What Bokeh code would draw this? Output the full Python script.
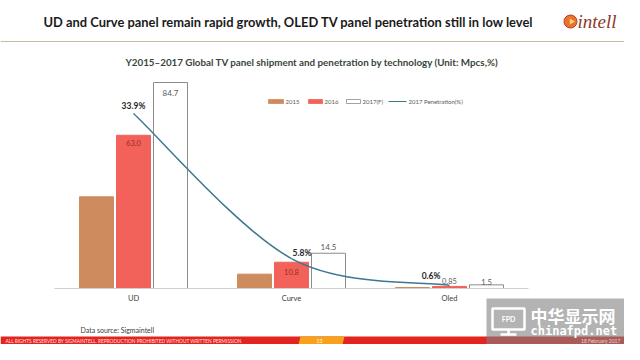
from bokeh.plotting import figure
from bokeh.models import Range1d
from bokeh.core.properties import value
from bokeh.embed import file_html
from bokeh.resources import INLINE

# ---------------- data ----------------
categories = ["UD", "Curve", "Oled"]
years = ["2015", "2016", "2017(F)"]
ship_2015 = [37.7, 5.9, 0.4]
ship_2016 = [63.0, 10.8, 0.85]
ship_2017 = [84.7, 14.5, 1.5]
pen_2017 = [33.9, 5.8, 0.6]
pen_labels = ["33.9%", "5.8%", "0.6%"]

title_text = "UD and Curve panel  remain rapid growth, OLED TV panel penetration still in low level"
subtitle_text = "Y2015\u20132017 Global  TV panel  shipment and penetration by technology (Unit: Mpcs,%)"

# ---------------- layout helpers (canvas px -> data) ----------------
W, H = 624, 344
XC, XS = 133.0, 158.0        # x of first category centre, px per category
YB, YK = 288.0, 2.432        # y of baseline, px per Mpcs
PK = 175.0 / 33.9            # px per % on penetration axis


def X(px):
    return (px - XC) / XS


def Y(py):
    return (YB - py) / YK


FONT = value("Lato")

p = figure(width=W, height=H, output_backend="svg", toolbar_location=None,
           x_range=Range1d(X(0), X(W)), y_range=Range1d(Y(H), Y(0)),
           x_axis_location=None, y_axis_location=None, min_border=0)
p.extra_y_ranges = {"pen": Range1d((YB - H) / PK, YB / PK)}
p.grid.visible = False
p.outline_line_color = None
p.background_fill_color = "white"


def txt(x, y, t, size, color="#333333", style="normal", align="left", font=FONT, base="middle", **kw):
    p.text(x=[X(x)], y=[Y(y)], text=[t], text_font=font, text_font_size=size,
           text_color=color, text_font_style=style, text_align=align, text_baseline=base, **kw)


# ---------------- header ----------------
txt(43, 21, title_text, "12.9px", "#1a1a1a", "bold")
p.segment(x0=[X(0)], y0=[Y(41)], x1=[X(W)], y1=[Y(41)], line_color="#c9b9aa", line_width=1)
# logo
p.scatter(x=[X(570)], y=[Y(21)], size=13, marker="circle", fill_color="#e8732a", line_color="#c0392b", line_width=1)
p.scatter(x=[X(571)], y=[Y(21)], size=6, marker="triangle", angle=-1.5708, fill_color="#fbd17a", line_color=None)
txt(577, 21, "intell", "19px", "#8b3a2a", "italic", font=value("Liberation Serif"))

txt(314, 61, subtitle_text, "9.8px", "#38463a", "bold", align="center")

# ---------------- bars ----------------
xi = list(range(len(categories)))
off, bw = 37.0 / XS, 34.0 / XS
colors = ["#cd8b5e", "#f2625a", "#ffffff"]
lines = ["#cd8b5e", "#f2625a", "#8c8c8c"]
for k, (vals, c, lc) in enumerate(zip([ship_2015, ship_2016, ship_2017], colors, lines)):
    p.vbar(x=[i + (k - 1) * off for i in xi], top=vals, width=bw, bottom=0,
           fill_color=c, line_color=lc, line_width=1)

# baseline and category labels
p.segment(x0=[X(54)], y0=[0], x1=[X(528)], y1=[0], line_color="#d0d0d0", line_width=1)
p.text(x=xi, y=[Y(298)] * 3, text=categories, text_font=FONT, text_font_size="7.5px",
       text_color="#404040", text_align="center", text_baseline="middle")

# value labels
p.text(x=[0 + off], y=[ship_2017[0]], text=[f"{ship_2017[0]:.1f}"], text_font=FONT, text_font_size="8px",
       text_color="#595959", text_align="center", text_baseline="middle", y_offset=10)
p.text(x=[0], y=[ship_2016[0]], text=[f"{ship_2016[0]:.1f}"], text_font=FONT, text_font_size="7.5px",
       text_color="#9a2a20", text_align="center", text_baseline="middle", y_offset=8)
p.text(x=[1 + off], y=[ship_2017[1]], text=[f"{ship_2017[1]:.1f}"], text_font=FONT, text_font_size="8px",
       text_color="#595959", text_align="center", text_baseline="middle", y_offset=-6)
p.text(x=[1], y=[ship_2016[1]], text=[f"{ship_2016[1]:.1f}"], text_font=FONT, text_font_size="7.5px",
       text_color="#9a2a20", text_align="center", text_baseline="middle", y_offset=10)
p.text(x=[2], y=[ship_2016[2]], text=[f"{ship_2016[2]:.2f}"], text_font=FONT, text_font_size="7.5px",
       text_color="#595959", text_align="center", text_baseline="middle", y_offset=-5)
p.text(x=[2 + off], y=[ship_2017[2]], text=[f"{ship_2017[2]:.1f}"], text_font=FONT, text_font_size="7.5px",
       text_color="#595959", text_align="center", text_baseline="middle", y_offset=-3)

# ---------------- penetration curve (smoothed) ----------------
pts = list(zip(xi, pen_2017))
x0s, y0s, x1s, y1s, cx0, cy0, cx1, cy1 = [], [], [], [], [], [], [], []
for i in range(len(pts) - 1):
    pm = pts[max(i - 1, 0)]
    p0 = pts[i]
    p1 = pts[i + 1]
    p2 = pts[min(i + 2, len(pts) - 1)]
    x0s.append(p0[0]); y0s.append(p0[1]); x1s.append(p1[0]); y1s.append(p1[1])
    cx0.append(p0[0] + (p1[0] - pm[0]) / 6); cy0.append(p0[1] + (p1[1] - pm[1]) / 6)
    cx1.append(p1[0] - (p2[0] - p0[0]) / 6); cy1.append(p1[1] - (p2[1] - p0[1]) / 6)
p.bezier(x0=x0s, y0=y0s, x1=x1s, y1=y1s, cx0=cx0, cy0=cy0, cx1=cx1, cy1=cy1,
         line_color="#3d7890", line_width=1.5, y_range_name="pen")

p.text(x=[xi[0]], y=[pen_2017[0]], text=[pen_labels[0]], text_font=FONT, text_font_size="8.5px",
       text_font_style="bold", text_color="#262626", text_align="center", text_baseline="middle",
       y_offset=-8, y_range_name="pen")
p.text(x=[xi[1]], y=[pen_2017[1]], text=[pen_labels[1]], text_font=FONT, text_font_size="8.5px",
       text_font_style="bold", text_color="#262626", text_align="left", text_baseline="middle",
       x_offset=1, y_offset=-6, y_range_name="pen")
p.text(x=[xi[2]], y=[pen_2017[2]], text=[pen_labels[2]], text_font=FONT, text_font_size="8.5px",
       text_font_style="bold", text_color="#262626", text_align="right", text_baseline="middle",
       x_offset=-9, y_offset=-9, y_range_name="pen")

# ---------------- legend ----------------
leg_y = 101
for (xa, xb), c, lc in zip([(268, 283), (308, 322), (346, 360)], colors, lines):
    p.quad(left=[X(xa)], right=[X(xb)], bottom=[Y(leg_y + 2)], top=[Y(leg_y - 2)],
           fill_color=c, line_color=lc, line_width=0.8)
p.segment(x0=[X(388)], y0=[Y(leg_y)], x1=[X(406)], y1=[Y(leg_y)], line_color="#3d7890", line_width=1.2)
for xt, t in zip([285, 324, 362, 408], years + ["2017 Penetration(%)"]):
    txt(xt, leg_y, t, "6px", "#595959")

# ---------------- footer ----------------
txt(80, 329, "Data source:  Sigmaintell", "7px", "#404040")
p.quad(left=[X(0)], right=[X(W)], bottom=[Y(352)], top=[Y(336)], fill_color="#e3241f", line_color=None)
p.patch(x=[X(300), X(344), X(340), X(296)], y=[Y(336), Y(336), Y(352), Y(352)],
        fill_color="#f7a21b", line_color=None)
txt(5, 340.5, "ALL RIGHTS RESERVED BY SIGMAINTELL. REPRODUCTION PROHIBITED WITHOUT WRITTEN PERMISSION",
    "4.8px", "#ffe0e0")
txt(319, 340.5, "13", "5px", "#ffffff", align="center")

# watermark
p.quad(left=[X(486)], right=[X(W)], bottom=[Y(352)], top=[Y(298)], fill_color="#808080",
       fill_alpha=0.6, line_color=None)
p.quad(left=[X(492)], right=[X(524)], bottom=[Y(329)], top=[Y(308)], fill_color=None,
       line_color="#ffffff", line_width=2.5)
p.segment(x0=[X(508)], y0=[Y(329)], x1=[X(508)], y1=[Y(334)], line_color="#ffffff", line_width=2.5)
p.segment(x0=[X(500)], y0=[Y(334)], x1=[X(516)], y1=[Y(334)], line_color="#ffffff", line_width=2.5)
txt(508, 318.5, "FPD", "7px", "#ffffff", "bold", align="center")
txt(530, 315, "中华显示网", "17px", "#ffffff", "bold", font=value("Noto Sans CJK SC"))
txt(530, 330, "chinafpd.net", "12px", "#ffffff", "bold", font=value("DejaVu Sans Mono"))
txt(620, 340.5, "18 February 2017", "5px", "#f0d0d0", align="right")

open("out.html", "w").write(file_html(p, INLINE))
